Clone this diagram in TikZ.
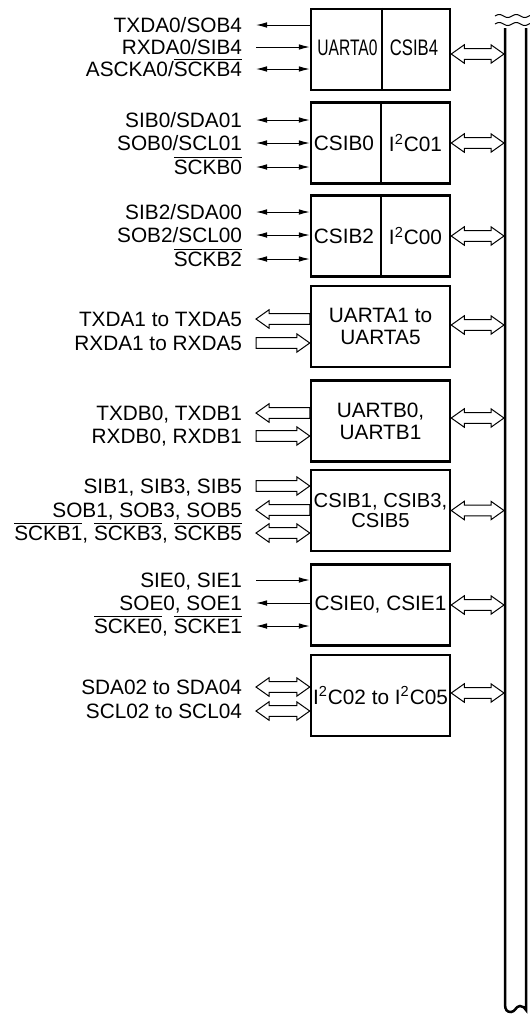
\documentclass[tikz,border=0pt]{standalone}
\usepackage{fontspec}
\setmainfont{Liberation Sans}
\usetikzlibrary{arrows.meta,calc}

\newcommand{\ovl}[1]{$\overline{\mbox{#1}}$}
\newcommand{\ahl}{6.5pt}
\newcommand{\ahw}{4.6pt}
\newcommand{\asw}{2.7pt}
% hollow arrows, drawn level with the first point
\newcommand{\fatboth}[2]{\draw[hollow] let \p1=(#1), \p2=(#2) in
  (\x1,\y1) -- (\x1+\ahl,\y1+\ahw) -- (\x1+\ahl,\y1+\asw) -- (\x2-\ahl,\y1+\asw) -- (\x2-\ahl,\y1+\ahw) -- (\x2,\y1)
  -- (\x2-\ahl,\y1-\ahw) -- (\x2-\ahl,\y1-\asw) -- (\x1+\ahl,\y1-\asw) -- (\x1+\ahl,\y1-\ahw) -- cycle;}
\newcommand{\fatright}[2]{\draw[hollow] let \p1=(#1), \p2=(#2) in
  (\x1,\y1+\asw) -- (\x2-\ahl,\y1+\asw) -- (\x2-\ahl,\y1+\ahw) -- (\x2,\y1)
  -- (\x2-\ahl,\y1-\ahw) -- (\x2-\ahl,\y1-\asw) -- (\x1,\y1-\asw) -- cycle;}
\newcommand{\fatleft}[2]{\draw[hollow] let \p1=(#1), \p2=(#2) in
  (\x1,\y1) -- (\x1+\ahl,\y1+\ahw) -- (\x1+\ahl,\y1+\asw) -- (\x2,\y1+\asw)
  -- (\x2,\y1-\asw) -- (\x1+\ahl,\y1-\asw) -- (\x1+\ahl,\y1-\ahw) -- cycle;}

\begin{document}
\begin{tikzpicture}[x=0.5pt, y=-0.5pt, font=\fontsize{10.4}{11}\selectfont,
    >={Latex[length=5.5pt,width=2.8pt]},
    blk/.style={draw, line width=1.25pt, minimum width=69.5pt, minimum height=40.5pt, inner sep=0.5pt, align=center},
    sig/.style={anchor=east, inner sep=0pt, outer xsep=7pt, text height=7.5pt, text depth=0pt},
    wire/.style={line width=0.5pt},
    hollow/.style={draw, fill=white, line width=0.5pt},
    bus/.style={line width=1.25pt}]
    \useasboundingbox (0,0) rectangle (530,1014);

    \node[blk] (uarta0) at (380.5,49.5) {};
    \draw[line width=1.25pt] ([xshift=0.75pt]uarta0.north) -- ([xshift=0.75pt]uarta0.south);
    \node (uarta0l) at (347.5,48) {\scalebox{0.75}[1.08]{UARTA0}};
    \node (csib4l) at (414,48) {\scalebox{0.8}[1.08]{CSIB4}};
    \node[sig] (txda0) at (256,25) {TXDA0/SOB4};
    \node[sig] (rxda0) at (256,47) {RXDA0/SIB4};
    \node[sig] (ascka0) at (256,69) {ASCKA0/\ovl{SCKB4}};
    \draw[wire,<-] (txda0.east) -- (uarta0.west |- txda0.east);
    \draw[wire,->] (rxda0.east) -- (uarta0.west |- rxda0.east);
    \draw[wire,<->] (ascka0.east) -- (uarta0.west |- ascka0.east);

    \node[blk] (csib0) at (380.5,143) {};
    \draw[line width=1.25pt] ([xshift=0.25pt]csib0.north) -- ([xshift=0.25pt]csib0.south);
    \node (csib0l) at (344,143) {CSIB0};
    \node (iic01l) at (415.5,143) {I\textsuperscript{2}C01};
    \node[sig] (sib0) at (256,120) {SIB0/SDA01};
    \node[sig] (sob0) at (256,143) {SOB0/SCL01};
    \node[sig] (sckb0) at (256,167) {\ovl{SCKB0}};
    \draw[wire,<->] (sib0.east) -- (csib0.west |- sib0.east);
    \draw[wire,<->] (sob0.east) -- (csib0.west |- sob0.east);
    \draw[wire,<->] (sckb0.east) -- (csib0.west |- sckb0.east);

    \node[blk] (csib2) at (380.5,236) {};
    \draw[line width=1.25pt] ([xshift=0.25pt]csib2.north) -- ([xshift=0.25pt]csib2.south);
    \node (csib2l) at (344,236) {CSIB2};
    \node (iic00l) at (415.5,236) {I\textsuperscript{2}C00};
    \node[sig] (sib2) at (256,212) {SIB2/SDA00};
    \node[sig] (sob2) at (256,235) {SOB2/SCL00};
    \node[sig] (sckb2) at (256,259) {\ovl{SCKB2}};
    \draw[wire,<->] (sib2.east) -- (csib2.west |- sib2.east);
    \draw[wire,<->] (sob2.east) -- (csib2.west |- sob2.east);
    \draw[wire,<->] (sckb2.east) -- (csib2.west |- sckb2.east);

    \node[blk] (uarta1) at (380.5,326.5) {UARTA1 to\\UARTA5};
    \node[sig] (txda1) at (256,319) {TXDA1 to TXDA5};
    \node[sig] (rxda1) at (256,343) {RXDA1 to RXDA5};
    \fatleft{txda1.east}{uarta1.west}
    \fatright{rxda1.east}{uarta1.west}

    \node[blk] (uartb0) at (380.5,421) {UARTB0,\\UARTB1};
    \node[sig] (txdb0) at (256,413) {TXDB0, TXDB1};
    \node[sig] (rxdb0) at (256,436) {RXDB0, RXDB1};
    \fatleft{txdb0.east}{uartb0.west}
    \fatright{rxdb0.east}{uartb0.west}

    \node[blk, font=\fontsize{10.1}{10}\selectfont] (csib1) at (380.5,510.5) {CSIB1, CSIB3,\\CSIB5};
    \node[sig] (sib1) at (256,486) {SIB1, SIB3, SIB5};
    \node[sig] (sob1) at (256,510) {SOB1, SOB3, SOB5};
    \node[sig] (sckb1) at (256,533) {\ovl{SCKB1}, \ovl{SCKB3}, \ovl{SCKB5}};
    \fatright{sib1.east}{csib1.west}
    \fatleft{sob1.east}{csib1.west}
    \fatboth{sckb1.east}{csib1.west}

    \node[blk] (csie0) at (380.5,605) {CSIE0, CSIE1};
    \node[sig] (sie0) at (256,580) {SIE0, SIE1};
    \node[sig] (soe0) at (256,603) {SOE0, SOE1};
    \node[sig] (scke0) at (256,626) {\ovl{SCKE0}, \ovl{SCKE1}};
    \draw[wire,->] (sie0.east) -- (csie0.west |- sie0.east);
    \draw[wire,<-] (soe0.east) -- (csie0.west |- soe0.east);
    \draw[wire,<->] (scke0.east) -- (csie0.west |- scke0.east);

    \node[blk] (iic02) at (380.5,695.5) {I\textsuperscript{2}C02 to I\textsuperscript{2}C05};
    \node[sig] (sda02) at (256,687) {SDA02 to SDA04};
    \node[sig] (scl02) at (256,711) {SCL02 to SCL04};
    \fatboth{sda02.east}{iic02.west}
    \fatboth{scl02.east}{iic02.west}

    % internal bus
    \coordinate (bus) at (504,0);
    \draw[bus] (505,28) -- (505,1004) .. controls (505,1010) and (507,1012) .. (511,1012)
        .. controls (515,1012) and (516,1006) .. (520,1006) .. controls (523,1006) and (525,1008) .. (526,1010) -- (526,28);
    \foreach \wy in {16,24}
        \draw[line width=0.5pt] plot[domain=495:530, samples=36, smooth] (\x, {\wy - 1.5*sin((\x-495)*21.2)});

    \fatboth{[yshift=-2.25pt]uarta0.east}{bus}
    \fatboth{csib0.east}{bus}
    \fatboth{csib2.east}{bus}
    \fatboth{[yshift=0.75pt]uarta1.east}{bus}
    \fatboth{[yshift=1.5pt]uartb0.east}{bus}
    \fatboth{csib1.east}{bus}
    \fatboth{csie0.east}{bus}
    \fatboth{[yshift=1.25pt]iic02.east}{bus}
\end{tikzpicture}
\end{document}
